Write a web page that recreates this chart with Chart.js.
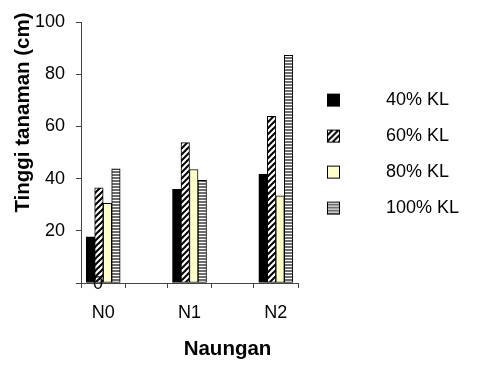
<!DOCTYPE html>
<html><head><meta charset="utf-8">
<script src="https://cdn.jsdelivr.net/npm/chart.js@4"></script>
<style>html,body{margin:0;padding:0;background:#fff}</style>
</head><body>
<canvas id="c" width="478" height="365"></canvas>
<script>
// ---- data ----
const categories = ['N0', 'N1', 'N2'];
const seriesNames = ['40% KL', '60% KL', '80% KL', '100% KL'];
const kl40 = [17.7, 35.9, 41.7];
const kl60 = [36.5, 53.8, 63.9];
const kl80 = [30.5, 43.5, 33.4];
const kl100 = [43.7, 39.3, 87.2];
const yTickValues = [0, 20, 40, 60, 80, 100];
const xTitle = 'Naungan';
const yTitle = 'Tinggi tanaman (cm)';
const zeroLabel = '0';

// ---- styles ----
const FONT = "'Liberation Sans', Arial, sans-serif";
Chart.defaults.font.family = FONT;
const AXIS = '#444';
const halfGroupTick = 0.257;

function makeHatchCanvas() {
  const c = document.createElement('canvas'); c.width = 6; c.height = 6;
  const g = c.getContext('2d');
  g.fillStyle = '#fff'; g.fillRect(0, 0, 6, 6);
  g.strokeStyle = '#000'; g.lineWidth = 2;
  g.beginPath();
  g.moveTo(-3, 3); g.lineTo(3, -3);
  g.moveTo(0, 6); g.lineTo(6, 0);
  g.moveTo(3, 9); g.lineTo(9, 3);
  g.stroke();
  return c;
}
function makeStripeCanvas() {
  const c = document.createElement('canvas'); c.width = 2; c.height = 3;
  const g = c.getContext('2d');
  g.fillStyle = '#fff'; g.fillRect(0, 0, 2, 3);
  g.fillStyle = '#6e6e6e'; g.fillRect(0, 0, 2, 2);
  return c;
}
const mainCtx = document.getElementById('c').getContext('2d');
const hatchSrc = makeHatchCanvas();
const stripeSrc = makeStripeCanvas();
const fills = ['#000000', mainCtx.createPattern(hatchSrc, 'repeat'), '#FFFFCC', mainCtx.createPattern(stripeSrc, 'repeat')];

function makeIcon(kind) {
  const c = document.createElement('canvas'); c.width = 61; c.height = 15;
  const g = c.getContext('2d');
  let f;
  if (kind === 0) f = '#000';
  else if (kind === 1) f = g.createPattern(hatchSrc, 'repeat');
  else if (kind === 2) f = '#FFFFCC';
  else f = g.createPattern(stripeSrc, 'repeat');
  g.fillStyle = f; g.fillRect(11, 1, 13, 13);
  g.strokeStyle = '#000'; g.lineWidth = 1; g.strokeRect(11.5, 1.5, 12, 12);
  return c;
}
const icons = [0, 1, 2, 3].map(makeIcon);

const series = [kl40, kl60, kl80, kl100];
const xTickValues = [];
categories.forEach((c, i) => { xTickValues.push(i - halfGroupTick, i, i + halfGroupTick); });

const textPlugin = {
  id: 'extraText',
  afterDraw(chart) {
    const ctx = chart.ctx;
    ctx.save();
    ctx.fillStyle = '#000';
    ctx.font = 'bold 20.5px ' + FONT;
    ctx.textAlign = 'center';
    ctx.textBaseline = 'alphabetic';
    ctx.fillText(xTitle, 227.5, 355);
    ctx.save();
    ctx.translate(28.5, 112.5);
    ctx.rotate(-Math.PI / 2);
    ctx.fillText(yTitle, 0, 0);
    ctx.restore();
    ctx.font = '18px ' + FONT;
    ctx.textBaseline = 'middle';
    ctx.fillText(zeroLabel, 98, 284);
    ctx.restore();
  }
};

new Chart(document.getElementById('c'), {
  type: 'bar',
  data: {
    datasets: series.map((vals, i) => ({
      label: seriesNames[i],
      data: vals.map((v, j) => ({ x: j, y: v })),
      backgroundColor: fills[i],
      borderColor: '#000',
      borderWidth: 1,
      borderSkipped: false,
      barThickness: 8.5
    }))
  },
  options: {
    responsive: false,
    animation: false,
    devicePixelRatio: 1,
    layout: { padding: { top: 22, right: 10, bottom: 0, left: 0 } },
    plugins: {
      tooltip: { enabled: false },
      legend: {
        position: 'right',
        fullSize: false,
        align: 'center',
        maxWidth: 170,
        title: { display: true, text: ' ', font: { size: 1 }, padding: 1 },
        labels: {
          usePointStyle: true,
          pointStyleWidth: 61,
          padding: 18,
          color: '#000',
          font: { size: 18 },
          generateLabels: (chart) => chart.data.datasets.map((ds, i) => ({
            text: ds.label, pointStyle: icons[i], fillStyle: 'rgba(0,0,0,0)',
            strokeStyle: 'rgba(0,0,0,0)', lineWidth: 0, hidden: false,
            datasetIndex: i, fontColor: '#000'
          }))
        }
      }
    },
    scales: {
      x: {
        type: 'linear',
        offset: false,
        min: -halfGroupTick,
        max: categories.length - 1 + halfGroupTick,
        afterBuildTicks: (s) => { s.ticks = xTickValues.map(v => ({ value: v })); },
        afterFit: (s) => { s.height = 82; },
        grid: {
          offset: false,
          drawOnChartArea: false, drawTicks: true, tickLength: 5, color: AXIS,
          tickColor: (ctx) => (ctx.tick && Number.isInteger(ctx.tick.value)) ? 'rgba(0,0,0,0)' : AXIS
        },
        border: { color: AXIS, width: 1 },
        ticks: {
          autoSkip: false, maxRotation: 0, padding: 14, color: '#000', font: { size: 18 },
          callback: (v) => Number.isInteger(v) ? categories[v] : ''
        }
      },
      y: {
        min: 0, max: 100,
        afterBuildTicks: (s) => { s.ticks = yTickValues.map(v => ({ value: v })); },
        afterFit: (s) => { s.width = 81; },
        grid: { drawOnChartArea: false, tickLength: 5, tickColor: AXIS, color: AXIS },
        border: { color: AXIS, width: 1 },
        ticks: {
          padding: 11, color: '#000', font: { size: 18 },
          callback: (v) => v === 0 ? '' : String(v)
        }
      }
    }
  },
  plugins: [textPlugin]
});
</script>
</body></html>
